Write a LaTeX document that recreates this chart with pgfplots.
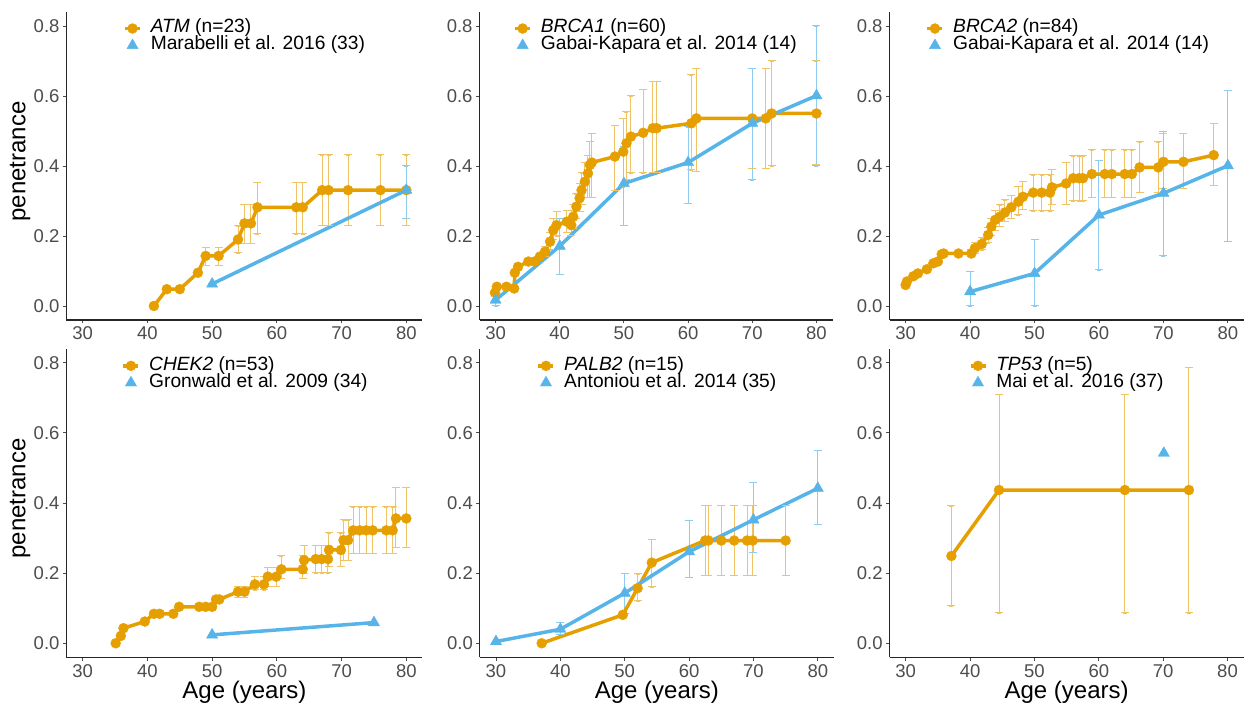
\documentclass[border=0pt]{standalone}
\usepackage{fontspec}
\setmainfont{Liberation Sans}
\usepackage{pgfplots}
\usepackage{pgfplotstable}
\pgfplotsset{compat=1.18}
\definecolor{cO}{HTML}{E69F00}
\definecolor{cB}{HTML}{56B4E9}
\definecolor{eO}{HTML}{F0C466}
\definecolor{eB}{HTML}{8ECDF0}
\definecolor{tickgrey}{HTML}{4D4D4D}

% x y lo hi
\pgfplotstableread{
x y lo hi
41 0.000 0.000 0.000
43 0.048 0.048 0.048
45 0.048 0.048 0.048
47.8 0.095 0.095 0.095
49 0.143 0.117 0.167
51 0.143 0.117 0.167
54 0.190 0.152 0.229
55 0.236 0.179 0.291
56 0.236 0.179 0.291
57 0.282 0.206 0.354
63 0.282 0.206 0.354
64 0.282 0.206 0.354
67 0.331 0.231 0.432
68 0.331 0.231 0.432
71 0.331 0.231 0.432
76 0.331 0.231 0.432
80 0.331 0.231 0.432
}\atmO
\pgfplotstableread{
x y lo hi
50 0.063 0.063 0.063
80 0.331 0.250 0.400
}\atmB

\pgfplotstableread{
x y lo hi
29.9 0.038 0.038 0.038
30.2 0.055 0.055 0.055
31.7 0.055 0.055 0.055
32.9 0.050 0.050 0.050
33.0 0.095 0.095 0.095
33.5 0.112 0.112 0.112
35.1 0.127 0.127 0.127
36.1 0.127 0.127 0.127
36.9 0.141 0.141 0.141
37.7 0.155 0.140 0.170
38.5 0.184 0.160 0.210
39.0 0.217 0.190 0.250
39.5 0.231 0.200 0.270
41.1 0.241 0.210 0.274
41.8 0.231 0.200 0.274
42.1 0.255 0.220 0.290
42.6 0.284 0.250 0.320
43.1 0.308 0.270 0.350
43.4 0.331 0.290 0.380
43.9 0.355 0.310 0.410
44.4 0.379 0.310 0.430
44.7 0.403 0.310 0.470
45.0 0.410 0.310 0.494
48.6 0.427 0.331 0.517
49.9 0.441 0.340 0.536
50.4 0.465 0.360 0.555
51.1 0.484 0.380 0.600
53.0 0.495 0.380 0.619
54.5 0.508 0.380 0.641
55.1 0.508 0.380 0.641
60.5 0.522 0.389 0.660
61.3 0.536 0.385 0.679
70.0 0.536 0.393 0.679
72.1 0.536 0.393 0.679
73.0 0.550 0.400 0.700
80.0 0.550 0.403 0.700
}\brcaO
\pgfplotstableread{
x y lo hi
30 0.017 0.000 0.035
40 0.171 0.090 0.250
50 0.350 0.231 0.455
60 0.410 0.293 0.512
70 0.522 0.360 0.679
80 0.601 0.400 0.800
}\brcaB

\pgfplotstableread{
x y lo hi
30.0 0.060 0.060 0.060
30.2 0.070 0.070 0.070
31.2 0.085 0.085 0.085
31.9 0.093 0.093 0.093
33.3 0.105 0.105 0.105
34.3 0.122 0.122 0.122
35.0 0.127 0.127 0.127
35.6 0.148 0.148 0.148
35.9 0.150 0.150 0.150
38.2 0.150 0.150 0.150
40.2 0.150 0.140 0.160
40.75 0.165 0.150 0.180
41.8 0.177 0.160 0.195
42.8 0.203 0.180 0.225
43.3 0.227 0.200 0.250
43.9 0.246 0.217 0.274
44.6 0.255 0.227 0.289
45.4 0.267 0.241 0.303
46.4 0.282 0.250 0.317
47.5 0.298 0.260 0.341
48.2 0.312 0.276 0.357
49.8 0.324 0.272 0.375
51.1 0.324 0.272 0.375
52.4 0.324 0.272 0.375
52.7 0.339 0.290 0.390
54.9 0.350 0.291 0.410
56.0 0.365 0.300 0.429
56.9 0.365 0.300 0.429
57.5 0.365 0.300 0.429
58.9 0.377 0.310 0.446
60.9 0.377 0.310 0.446
62.0 0.377 0.310 0.446
64.0 0.377 0.310 0.446
65.1 0.377 0.310 0.446
66.3 0.396 0.324 0.469
69.2 0.396 0.324 0.469
70.0 0.412 0.336 0.493
73.1 0.412 0.336 0.493
77.8 0.431 0.344 0.522
}\brcbO
\pgfplotstableread{
x y lo hi
40 0.041 0.000 0.098
50 0.093 0.000 0.190
60 0.260 0.103 0.417
70 0.322 0.143 0.498
80 0.401 0.184 0.617
}\brcbB

\pgfplotstableread{
x y lo hi
35.1 0.000 0.000 0.000
35.9 0.021 0.021 0.021
36.3 0.043 0.043 0.043
39.6 0.062 0.062 0.062
41.0 0.084 0.084 0.084
41.9 0.084 0.084 0.084
44.0 0.084 0.084 0.084
44.9 0.104 0.104 0.104
48.0 0.104 0.104 0.104
49.0 0.104 0.104 0.104
50.0 0.104 0.104 0.104
50.6 0.125 0.125 0.125
51.1 0.125 0.125 0.125
54.0 0.147 0.131 0.161
55.0 0.147 0.131 0.161
56.6 0.168 0.152 0.190
58.0 0.168 0.152 0.190
58.6 0.190 0.163 0.217
59.9 0.190 0.163 0.217
60.7 0.211 0.185 0.249
64.0 0.211 0.185 0.249
64.2 0.237 0.200 0.280
66.0 0.240 0.201 0.280
66.9 0.240 0.201 0.280
67.9 0.240 0.201 0.280
68.05 0.266 0.220 0.315
69.9 0.266 0.220 0.315
70.3 0.294 0.237 0.352
71.0 0.294 0.237 0.352
71.8 0.322 0.257 0.389
72.8 0.322 0.257 0.389
73.8 0.322 0.257 0.389
74.8 0.322 0.257 0.389
76.9 0.322 0.257 0.389
77.9 0.322 0.257 0.389
78.4 0.356 0.274 0.445
80.0 0.356 0.274 0.445
}\chekO
\pgfplotstableread{
x y
50 0.024
75 0.059
}\chekB

\pgfplotstableread{
x y lo hi
37.1 0.000 0.000 0.000
49.7 0.081 0.081 0.081
52.0 0.157 0.121 0.198
54.2 0.230 0.161 0.296
62.5 0.293 0.193 0.394
63.0 0.293 0.193 0.394
65.0 0.293 0.193 0.394
67.0 0.293 0.193 0.394
69.0 0.293 0.193 0.394
69.9 0.293 0.193 0.394
75.0 0.293 0.193 0.394
}\palbO
\pgfplotstableread{
x y lo hi
30 0.005 0.005 0.005
40 0.040 0.024 0.059
50 0.143 0.086 0.200
60 0.261 0.188 0.350
70 0.352 0.259 0.459
80 0.442 0.340 0.551
}\palbB

\pgfplotstableread{
x y lo hi
37.1 0.249 0.107 0.392
44.5 0.437 0.087 0.710
64.05 0.437 0.087 0.710
74.0 0.437 0.087 0.787
}\tpO
\pgfplotstableread{
x y
70.1 0.542
}\tpB

\pgfplotsset{
  legend image code/.code={\draw[mark repeat=2,mark phase=2,#1] plot coordinates {(0pt,0pt) (7.5pt,0pt) (15pt,0pt)};},
  pen/.style={
    scale only axis,
    height=308pt,
    xmin=27.5, xmax=82.5, ymin=-0.04, ymax=0.84,
    axis lines*=left,
    axis line style={line width=1.1pt, draw=black!85},
    xtick={30,40,50,60,70,80},
    xticklabels={30,40,50,60,70,80},
    ytick={0,0.2,0.4,0.6,0.8},
    yticklabels={0.0,0.2,0.4,0.6,0.8},
    tick align=outside,
    major tick length=3.5pt,
    tick style={line width=0.9pt, draw=black!70},
    ticklabel style={font=\fontsize{18.5}{20}\selectfont, text=tickgrey},
    label style={font=\fontsize{24}{26}\selectfont},
    ylabel style={at={(axis description cs:-0.1306,0.515)}, anchor=center},
    xlabel style={at={(axis description cs:0.5,-0.1125)}, anchor=center},
    legend style={draw=none, fill=none, font=\fontsize{19.2}{21}\selectfont,
      anchor=north west, inner sep=0pt, row sep=-1.6pt,
      nodes={inner sep=1pt, text height=12.5pt, text depth=4pt},
      /tikz/every odd column/.append style={column sep=8pt}},
    legend cell align=left,
  },
  ebO/.style={forget plot, only marks, mark=none, color=eO,
    error bars/.cd, y dir=both, y explicit,
    error bar style={draw=eO, line width=1pt}},
  ebB/.style={forget plot, only marks, mark=none, color=eB,
    error bars/.cd, y dir=both, y explicit,
    error bar style={draw=eB, line width=1pt}},
  capO/.style={forget plot, only marks, color=eO, mark=-, mark size=4pt,
    mark options={draw=eO, color=eO, line width=1pt}},
  capB/.style={forget plot, only marks, color=eB, mark=-, mark size=4pt,
    mark options={draw=eB, color=eB, line width=1pt}},
  serO/.style={color=cO, line width=3.5pt, line join=round, mark=*, mark size=5pt, mark options={line width=0.4pt}},
  serB/.style={color=cB, line width=3.5pt, line join=round, mark=triangle*, mark size=6.5pt, mark options={line width=0.4pt},
    legend image code/.code={\draw[##1] plot coordinates {(7.5pt,0pt)};}},
}

\begin{document}
\begin{tikzpicture}
\useasboundingbox (0,0) rectangle (1249pt,709pt);

% ATM
\begin{axis}[pen, width=356pt, at={(66.5pt,389pt)}, anchor=south west,
  ylabel={penetrance}, legend style={at={(0.159,0.977)}}]
\addplot[ebO] table[x=x, y=y, y error plus expr=\thisrow{hi}-\thisrow{y}, y error minus expr=\thisrow{y}-\thisrow{lo}] {\atmO};
\addplot[capO] table[x=x, y=lo] {\atmO};
\addplot[capO] table[x=x, y=hi] {\atmO};
\addplot[ebB] table[x=x, y=y, y error plus expr=\thisrow{hi}-\thisrow{y}, y error minus expr=\thisrow{y}-\thisrow{lo}] {\atmB};
\addplot[capB] table[x=x, y=lo] {\atmB};
\addplot[capB] table[x=x, y=hi] {\atmB};
\addplot[serO] table[x=x,y=y] {\atmO};
\addlegendentry{\textit{ATM} (n=23)}
\addplot[serB] table[x=x,y=y] {\atmB};
\addlegendentry{Marabelli et al. 2016 (33)}
\end{axis}

% BRCA1
\begin{axis}[pen, width=353pt, at={(479.5pt,389pt)}, anchor=south west,
  legend style={at={(0.0955,0.977)}}]
\addplot[ebO] table[x=x, y=y, y error plus expr=\thisrow{hi}-\thisrow{y}, y error minus expr=\thisrow{y}-\thisrow{lo}] {\brcaO};
\addplot[capO] table[x=x, y=lo] {\brcaO};
\addplot[capO] table[x=x, y=hi] {\brcaO};
\addplot[ebB] table[x=x, y=y, y error plus expr=\thisrow{hi}-\thisrow{y}, y error minus expr=\thisrow{y}-\thisrow{lo}] {\brcaB};
\addplot[capB] table[x=x, y=lo] {\brcaB};
\addplot[capB] table[x=x, y=hi] {\brcaB};
\addplot[serO] table[x=x,y=y] {\brcaO};
\addlegendentry{\textit{BRCA1} (n=60)}
\addplot[serB] table[x=x,y=y] {\brcaB};
\addlegendentry{Gabai-Kapara et al. 2014 (14)}
\end{axis}

% BRCA2
\begin{axis}[pen, width=354.5pt, at={(889.5pt,389pt)}, anchor=south west,
  legend style={at={(0.1016,0.977)}}]
\addplot[ebO] table[x=x, y=y, y error plus expr=\thisrow{hi}-\thisrow{y}, y error minus expr=\thisrow{y}-\thisrow{lo}] {\brcbO};
\addplot[capO] table[x=x, y=lo] {\brcbO};
\addplot[capO] table[x=x, y=hi] {\brcbO};
\addplot[ebB] table[x=x, y=y, y error plus expr=\thisrow{hi}-\thisrow{y}, y error minus expr=\thisrow{y}-\thisrow{lo}] {\brcbB};
\addplot[capB] table[x=x, y=lo] {\brcbB};
\addplot[capB] table[x=x, y=hi] {\brcbB};
\addplot[serO] table[x=x,y=y] {\brcbO};
\addlegendentry{\textit{BRCA2} (n=84)}
\addplot[serB] table[x=x,y=y] {\brcbB};
\addlegendentry{Gabai-Kapara et al. 2014 (14)}
\end{axis}

% CHEK2
\begin{axis}[pen, width=356pt, height=308.6pt, at={(66.5pt,51.7pt)}, anchor=south west,
  ylabel={penetrance}, xlabel={Age (years)}, legend style={at={(0.1545,0.975)}}]
\addplot[ebO] table[x=x, y=y, y error plus expr=\thisrow{hi}-\thisrow{y}, y error minus expr=\thisrow{y}-\thisrow{lo}] {\chekO};
\addplot[capO] table[x=x, y=lo] {\chekO};
\addplot[capO] table[x=x, y=hi] {\chekO};
\addplot[serO] table[x=x,y=y] {\chekO};
\addlegendentry{\textit{CHEK2} (n=53)}
\addplot[serB] table[x=x,y=y] {\chekB};
\addlegendentry{Gronwald et al. 2009 (34)}
\end{axis}

% PALB2
\begin{axis}[pen, width=354pt, height=308.6pt, at={(479.9pt,51.7pt)}, anchor=south west,
  xlabel={Age (years)}, legend style={at={(0.16,0.975)}}]
\addplot[ebO] table[x=x, y=y, y error plus expr=\thisrow{hi}-\thisrow{y}, y error minus expr=\thisrow{y}-\thisrow{lo}] {\palbO};
\addplot[capO] table[x=x, y=lo] {\palbO};
\addplot[capO] table[x=x, y=hi] {\palbO};
\addplot[ebB] table[x=x, y=y, y error plus expr=\thisrow{hi}-\thisrow{y}, y error minus expr=\thisrow{y}-\thisrow{lo}] {\palbB};
\addplot[capB] table[x=x, y=lo] {\palbB};
\addplot[capB] table[x=x, y=hi] {\palbB};
\addplot[serO] table[x=x,y=y] {\palbO};
\addlegendentry{\textit{PALB2} (n=15)}
\addplot[serB] table[x=x,y=y] {\palbB};
\addlegendentry{Antoniou et al. 2014 (35)}
\end{axis}

% TP53
\begin{axis}[pen, width=354pt, height=308.6pt, at={(889.6pt,51.7pt)}, anchor=south west,
  xlabel={Age (years)}, legend style={at={(0.223,0.975)}}]
\addplot[ebO] table[x=x, y=y, y error plus expr=\thisrow{hi}-\thisrow{y}, y error minus expr=\thisrow{y}-\thisrow{lo}] {\tpO};
\addplot[capO] table[x=x, y=lo] {\tpO};
\addplot[capO] table[x=x, y=hi] {\tpO};
\addplot[serO] table[x=x,y=y] {\tpO};
\addlegendentry{\textit{TP53} (n=5)}
\addplot[serB, only marks] table[x=x,y=y] {\tpB};
\addlegendentry{Mai et al. 2016 (37)}
\end{axis}
\end{tikzpicture}
\end{document}
